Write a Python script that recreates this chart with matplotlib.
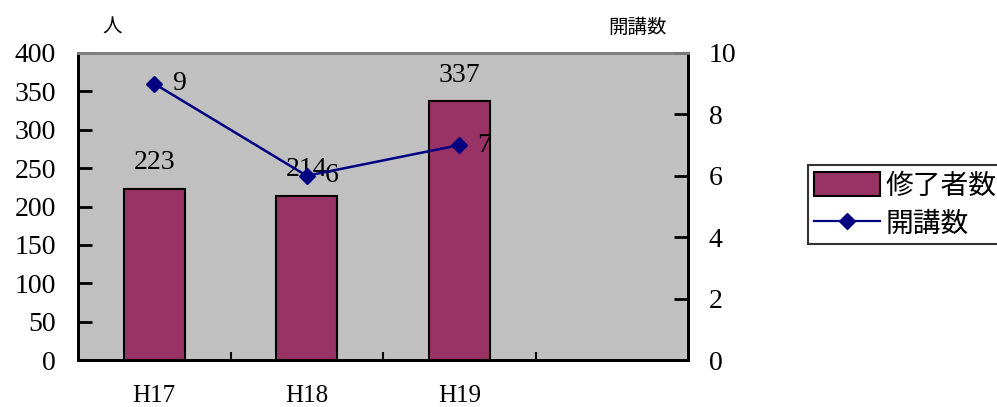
import matplotlib.pyplot as plt
from matplotlib.patches import Patch
from matplotlib.lines import Line2D

categories = ["H17", "H18", "H19", ""]
students = [223, 214, 337]
courses = [9, 6, 7]
left_ticks = [0, 50, 100, 150, 200, 250, 300, 350, 400]
right_ticks = [0, 2, 4, 6, 8, 10]

FONT = ['Liberation Serif', 'Noto Sans CJK JP']
plt.rcParams['font.family'] = FONT

bar_color = '#993366'
line_color = '#000080'

fig = plt.figure(figsize=(9.97, 4.07), dpi=100)
ax = fig.add_axes([78 / 997, 47 / 407, 610 / 997, 307 / 407])
ax.set_facecolor('#C0C0C0')

xs = list(range(len(students)))
ax.bar(xs, students, width=0.4, color=bar_color, edgecolor='black', linewidth=1.5, zorder=2)
ax.set_xlim(-0.5, len(categories) - 0.5)
ax.set_ylim(0, 400)
ax.set_yticks(left_ticks)
ax.set_yticklabels([str(v) for v in left_ticks], fontsize=20)
ax.set_xticks([i + 0.5 for i in range(len(categories) - 1)])
ax.set_xticklabels([])
ax.set_xticks(range(len(categories)), minor=True)
ax.set_xticklabels(categories, minor=True, fontsize=18)
ax.tick_params(axis='x', which='minor', length=0, pad=18)
ax.tick_params(axis='x', which='major', direction='in', length=6, width=1.5)
ax.tick_params(axis='y', direction='in', length=10, width=2, pad=16)

for x, v in zip(xs, students):
    ax.annotate(str(v), (x, v), xytext=(0, 26), textcoords='offset pixels',
                ha='center', va='center', fontsize=20, zorder=5)

ax2 = ax.twinx()
ax2.plot(xs, courses, color=line_color, marker='D', markersize=8, linewidth=1.8, zorder=4)
ax2.set_ylim(0, 10)
ax2.set_yticks(right_ticks)
ax2.set_yticklabels([str(v) for v in right_ticks], fontsize=20)
ax2.tick_params(axis='y', direction='in', length=10, width=2, pad=15)
for x, v in zip(xs, courses):
    ax2.annotate(str(v), (x, v), xytext=(25, 0), textcoords='offset pixels',
                 ha='center', va='center', fontsize=20)

for a in (ax, ax2):
    a.spines['top'].set_color('#808080')
    a.spines['top'].set_linewidth(2)
    for s in ('left', 'right', 'bottom'):
        a.spines[s].set_color('black')
        a.spines[s].set_linewidth(2)

fig.text(112 / 997, 1 - 27 / 407, "人", ha='center', va='center', fontsize=14, family=['Noto Sans CJK JP'])
fig.text(637 / 997, 1 - 27 / 407, "開講数", ha='center', va='center', fontsize=14, family=['Noto Sans CJK JP'])

handles = [Patch(facecolor=bar_color, edgecolor='black', linewidth=1.5),
           Line2D([0], [0], color=line_color, marker='D', markersize=8, linewidth=1.6)]
leg = fig.legend(handles, ["修了者数", "開講数"], loc='upper left',
                 bbox_to_anchor=(808 / 997, 1 - 165 / 407), prop={'family': 'Noto Sans CJK JP', 'size': 20},
                 frameon=True, fancybox=False, borderpad=0.2, handlelength=2.4, handleheight=0.9,
                 handletextpad=0.2, labelspacing=0.3, borderaxespad=0)
leg.get_frame().set_edgecolor('black')
leg.get_frame().set_linewidth(1.5)

fig.savefig('out.png', dpi=100)
